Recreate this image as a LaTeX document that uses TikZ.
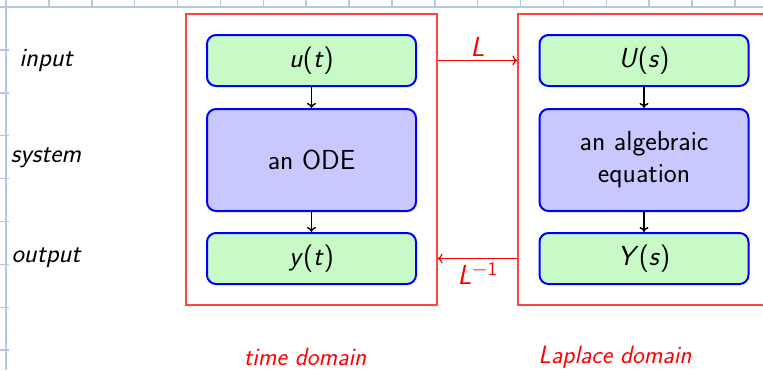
\documentclass[tikz,border=0pt]{standalone}
\usetikzlibrary{arrows.meta}
\definecolor{gridc}{RGB}{180,198,228}
\definecolor{iofill}{RGB}{200,250,200}
\definecolor{sysfill}{RGB}{200,200,255}
\definecolor{domc}{RGB}{255,70,70}
\begin{document}
\begin{tikzpicture}[x=1pt,y=-1pt,
  font=\sffamily\fontsize{27.5}{32}\selectfont,
  gridln/.style={line width=1.5pt, draw=gridc},
  domainbox/.style={draw=domc, line width=1.2pt, inner sep=0pt},
  io/.style={draw=blue, line width=2pt, fill=iofill, rounded corners=9pt, minimum width=209pt, minimum height=51pt, inner sep=0pt},
  sys/.style={draw=blue, line width=2pt, fill=sysfill, rounded corners=9pt, minimum width=209pt, minimum height=102pt, inner sep=0pt, align=center},
  flow/.style={-{To[length=5pt,width=9pt]}, line width=1.4pt},
  trans/.style={draw=red, line width=1.2pt, -{To[length=5pt,width=10pt]}},
  lbl/.style={font=\sffamily\itshape\fontsize{26.5}{31}\selectfont},
  dlbl/.style={font=\sffamily\itshape\fontsize{25}{30}\selectfont, text=red}]
\useasboundingbox (0,0) rectangle (763,370);
\clip (0,0) rectangle (763,370);
% grid margins
\draw[gridln] (0,7) -- (763,7);
\draw[gridln] (6,0) -- (6,370);
\foreach \i in {1,...,17} \draw[gridln] (6+42.875*\i,0) -- (6+42.875*\i,7.5);
\foreach \j in {1,...,8} \draw[gridln] (0,7+42.9*\j) -- (8.5,7+42.9*\j);
% domain boxes
\node[domainbox, minimum width=251pt, minimum height=291pt] (td) at (311.5,159.5) {};
\node[domainbox, minimum width=300pt, minimum height=291pt] (ld) at (668,159.5) {};
% time domain
\node[io] (u) at (311.5,60.5) {\textit{u}(\textit{t})};
\node[sys] (ode) at (311.5,160) {an ODE};
\node[io] (y) at (311.5,258.5) {\textit{y}(\textit{t})};
% Laplace domain
\node[io] (U) at (644,60.5) {\textit{U}(\textit{s})};
\node[sys] (alg) at (644,160) {an algebraic\\equation};
\node[io] (Y) at (644,258.5) {\textit{Y}(\textit{s})};
% flows
\draw[flow] (u) -- (ode);
\draw[flow] (ode) -- (y);
\draw[flow] (U) -- (alg);
\draw[flow] (alg) -- (Y);
% transforms
\draw[trans] (td.east |- u) -- node[above, text=red, inner sep=3pt] {\textit{L}} (ld.west |- U);
\draw[trans] (ld.west |- Y) -- node[below, text=red, inner sep=3pt] {\textit{L}\textsuperscript{$-$1}} (td.east |- y);
% row labels
\node[lbl] (lin) at (46,60) {input};
\node[lbl] (lsys) at (46,158) {system};
\node[lbl] (lout) at (46,258) {output};
% domain labels
\node[dlbl] (ltd) at (305,357) {time domain};
\node[dlbl] (lld) at (615,357) {Laplace domain};
\end{tikzpicture}
\end{document}
